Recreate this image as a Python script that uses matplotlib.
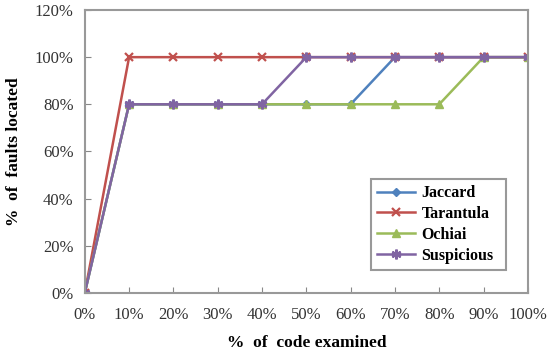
import matplotlib
matplotlib.use("Agg")
import matplotlib.pyplot as plt

x_labels = ["0%", "10%", "20%", "30%", "40%", "50%", "60%", "70%", "80%", "90%", "100%"]
x_vals = [0, 10, 20, 30, 40, 50, 60, 70, 80, 90, 100]
jaccard = [0, 80, 80, 80, 80, 80, 80, 100, 100, 100, 100]
tarantula = [0, 100, 100, 100, 100, 100, 100, 100, 100, 100, 100]
ochiai = [0, 80, 80, 80, 80, 80, 80, 80, 80, 100, 100]
suspicious = [0, 80, 80, 80, 80, 100, 100, 100, 100, 100, 100]
y_ticks = [0, 20, 40, 60, 80, 100, 120]

plt.rcParams['font.family'] = ['Liberation Serif', 'DejaVu Serif']

fig = plt.figure(figsize=(5.47, 3.58), dpi=100)
ax = fig.add_axes([0.155, 0.182, 0.81, 0.79])

ax.plot(x_vals, jaccard, color='#4F81BD', marker='D', markersize=4.5, lw=1.8, label='Jaccard')
ax.plot(x_vals, tarantula, color='#C0504D', marker='x', markersize=5.5, mew=1.6, lw=1.8, label='Tarantula')
ax.plot(x_vals, ochiai, color='#9BBB59', marker='^', markersize=6, lw=1.8, label='Ochiai')
ax.plot(x_vals, suspicious, color='#8064A2', marker=(6, 2, 0), markersize=7, mew=1.8, lw=1.8, label='Suspicious')

ax.set_xlim(0, 100)
ax.set_ylim(0, 120)
ax.set_xticks(x_vals)
ax.set_xticklabels(x_labels)
ax.set_yticks(y_ticks)
ax.set_yticklabels([f"{v}%" for v in y_ticks])
ax.tick_params(axis='both', direction='in', length=4, color='#888888', labelsize=12, labelcolor='#333333')
ax.tick_params(axis='x', pad=10)
ax.tick_params(axis='y', pad=8)
for s in ax.spines.values():
    s.set_color('#999999')
    s.set_linewidth(1.5)

ax.set_xlabel('%  of  code examined', fontsize=12.5, fontweight='bold', labelpad=9)
ax.set_ylabel('%  of  faults located', fontsize=12.5, fontweight='bold', labelpad=9)

leg = ax.legend(loc='lower left', bbox_to_anchor=(0.645, 0.081, 0.305, 0.308), mode='expand',
                fancybox=False, edgecolor='#999999', framealpha=1, borderaxespad=0,
                prop={'weight': 'bold', 'size': 11.5}, handlelength=2.4, handletextpad=0.4,
                labelspacing=0.3)
leg.get_frame().set_linewidth(1.5)

fig.savefig('out.png', dpi=100)
